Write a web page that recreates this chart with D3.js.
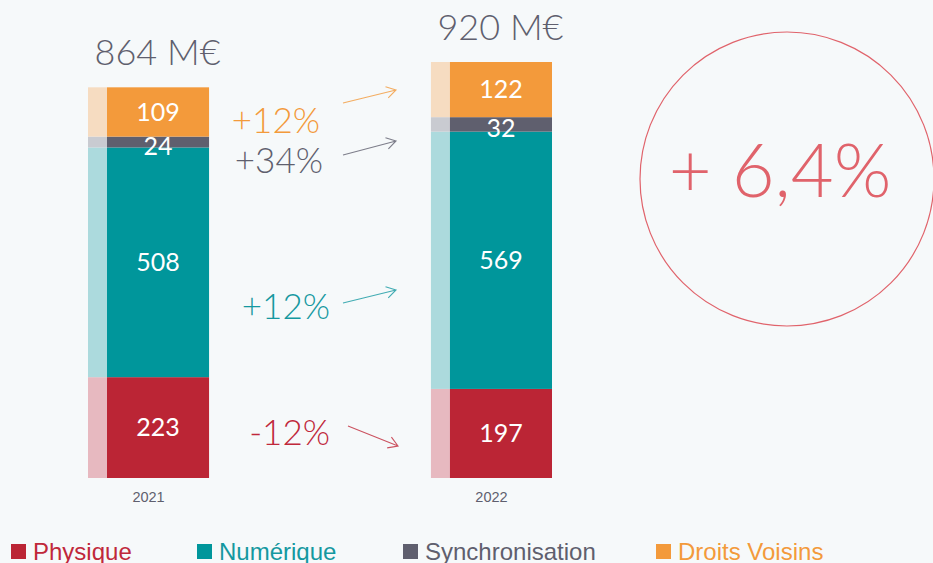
<!DOCTYPE html>
<html>
<head>
<meta charset="utf-8">
<script src="https://cdn.jsdelivr.net/npm/d3@7"></script>
<style>
  html, body { margin: 0; padding: 0; background: #f6f9fa; }
  svg { display: block; }
</style>
</head>
<body>
<div id="chart"></div>
<script>
const years = ["2021", "2022"];
const physique = [223, 197];
const numerique = [508, 569];
const synchronisation = [24, 32];
const droitsVoisins = [109, 122];
const totalLabels = ["864 M€", "920 M€"];
const seriesNames = ["Physique", "Numérique", "Synchronisation", "Droits Voisins"];
const changeLabels = ["-12%", "+12%", "+34%", "+12%"];
const totalChange = "+ 6,4%";

const WIDTH = 933, HEIGHT = 563;
const colors = ["#bb2535", "#00969b", "#5f5f6e", "#f39a3b"];
const lightColors = ["#e7b9c0", "#acdadd", "#c9cbd1", "#f6dcc1"];
const textColors = ["#c0283a", "#1498a0", "#5f5f6e", "#f39a3b"];
const GEO = "Lato, 'Noto Sans', sans-serif";
const SANS = "'Liberation Sans', Arial, sans-serif";

const rows = years.map((yr, i) => ({
  year: yr,
  values: [physique[i], numerique[i], synchronisation[i], droitsVoisins[i]]
}));

const svg = d3.select("#chart").append("svg")
  .attr("width", WIDTH)
  .attr("height", HEIGHT);

svg.append("rect").attr("width", WIDTH).attr("height", HEIGHT).attr("fill", "#f6f9fa");

const x = d3.scaleBand().domain(years).range([88, 552]).paddingInner(0.647).paddingOuter(0);
const y = d3.scaleLinear().domain([0, 920]).range([478, 62]);
const STRIP = 19;

const stack = d3.stack().keys(d3.range(4)).value((d, k) => d.values[k]);
const layers = stack(rows);

const bars = svg.append("g");
layers.forEach((layer, k) => {
  const g = bars.append("g");
  g.selectAll("rect.light").data(layer).enter().append("rect")
    .attr("x", d => x(d.data.year))
    .attr("width", STRIP)
    .attr("y", d => y(d[1]))
    .attr("height", d => y(d[0]) - y(d[1]))
    .attr("fill", lightColors[k]);
  g.selectAll("rect.main").data(layer).enter().append("rect")
    .attr("x", d => x(d.data.year) + STRIP)
    .attr("width", x.bandwidth() - STRIP)
    .attr("y", d => y(d[1]))
    .attr("height", d => y(d[0]) - y(d[1]))
    .attr("fill", colors[k]);
  g.selectAll("text").data(layer).enter().append("text")
    .attr("x", d => x(d.data.year) + STRIP + (x.bandwidth() - STRIP) / 2)
    .attr("y", d => (y(d[0]) + y(d[1])) / 2 + (k === 2 ? 4 : 0))
    .attr("dy", "0.35em")
    .attr("text-anchor", "middle")
    .attr("fill", "#fff")
    .style("font-family", GEO)
    .style("font-size", "25px")
    .text(d => d[1] - d[0]);
});

// totals above bars
const totals = rows.map(r => d3.sum(r.values));
svg.selectAll("text.total").data(years).enter().append("text")
  .attr("class", "total")
  .attr("x", d => x(d) + x.bandwidth() / 2 + 9)
  .attr("y", (d, i) => y(totals[i]) - 22)
  .attr("text-anchor", "middle")
  .attr("fill", "#5f5f6e")
  .style("font-family", GEO)
  .style("font-weight", 300)
  .style("font-size", "36px")
  .text((d, i) => totalLabels[i]);

// x axis labels
const xAxis = d3.axisBottom(x).tickSize(0).tickPadding(0);
const axisG = svg.append("g").attr("transform", "translate(0,492)").call(xAxis);
axisG.select(".domain").remove();
axisG.selectAll("text")
  .attr("fill", "#5f5f6e")
  .style("font-family", SANS)
  .style("font-size", "14.5px");

// change annotations (series order: physique, numerique, synchro, droits)
const annot = [
  { tx: 330, ty: 445, a: [348, 426], b: [398, 446] },
  { tx: 330, ty: 319, a: [343, 303], b: [396, 290] },
  { tx: 323, ty: 173, a: [343, 155], b: [396, 141] },
  { tx: 320, ty: 133, a: [343, 103], b: [396, 90] }
];
const ann = svg.append("g");
annot.forEach((p, k) => {
  ann.append("text")
    .attr("x", p.tx).attr("y", p.ty)
    .attr("text-anchor", "end")
    .attr("fill", textColors[k])
    .style("font-family", GEO)
    .style("font-weight", 300)
    .style("font-size", "35px")
    .text(changeLabels[k]);
  const ang = Math.atan2(p.b[1] - p.a[1], p.b[0] - p.a[0]);
  const head = 11, spread = 0.55;
  const h1 = [p.b[0] - head * Math.cos(ang - spread), p.b[1] - head * Math.sin(ang - spread)];
  const h2 = [p.b[0] - head * Math.cos(ang + spread), p.b[1] - head * Math.sin(ang + spread)];
  ann.append("path")
    .attr("d", `M${p.a}L${p.b}M${h1}L${p.b}L${h2}`)
    .attr("fill", "none")
    .attr("stroke", textColors[k])
    .attr("stroke-opacity", 0.8)
    .attr("stroke-width", 1.1);
});

// total change circle
const circ = svg.append("g").attr("transform", "translate(787,179)");
circ.append("circle")
  .attr("r", 147)
  .attr("fill", "none")
  .attr("stroke", "#e0636b")
  .attr("stroke-width", 1.2);
circ.append("text")
  .attr("x", -7)
  .attr("y", 18)
  .attr("text-anchor", "middle")
  .attr("fill", "#e0636b")
  .style("font-family", GEO)
  .style("font-weight", 300)
  .style("font-size", "74px")
  .text(totalChange);

// legend
const legendX = [11, 197, 403, 656];
const legend = svg.append("g").attr("transform", "translate(0,543)");
seriesNames.forEach((name, k) => {
  legend.append("rect")
    .attr("x", legendX[k]).attr("y", 1)
    .attr("width", 15).attr("height", 15)
    .attr("fill", colors[k]);
  legend.append("text")
    .attr("x", legendX[k] + 22).attr("y", 17)
    .attr("fill", textColors[k])
    .style("font-family", SANS)
    .style("font-size", "24px")
    .text(name);
});
</script>
</body>
</html>
